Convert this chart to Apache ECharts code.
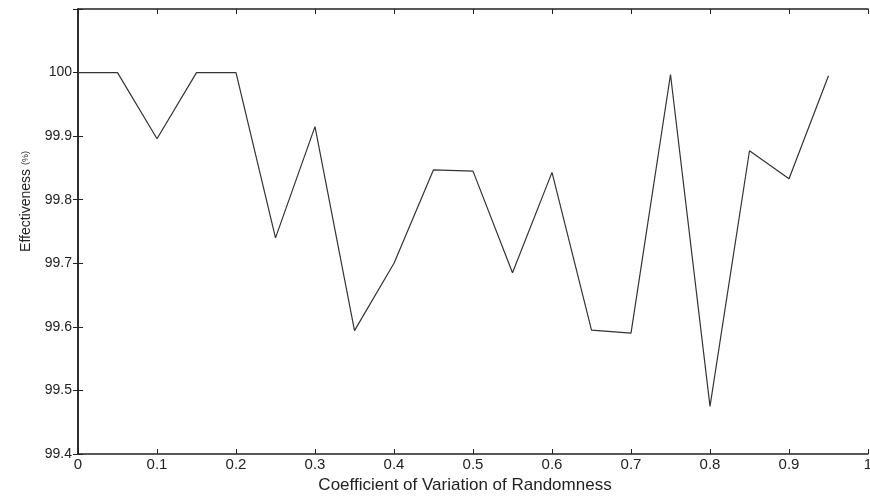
<!DOCTYPE html>
<html><head><meta charset="utf-8">
<script src="https://cdn.jsdelivr.net/npm/echarts@6/dist/echarts.min.js"></script>
<style>html,body{margin:0;padding:0;background:#fff}#c{width:870px;height:496px}</style>
</head><body><div id="c"></div>
<script>
const xValues = [0, 0.05, 0.1, 0.15, 0.2, 0.25, 0.3, 0.35, 0.4, 0.45, 0.5, 0.55, 0.6, 0.65, 0.7, 0.75, 0.8, 0.85, 0.9, 0.95];
const effectiveness = [100, 100, 99.896, 100, 100, 99.74, 99.915, 99.594, 99.70, 99.847, 99.845, 99.685, 99.843, 99.595, 99.59, 99.997, 99.475, 99.877, 99.833, 99.995];
const xTickLabels = ['0','0.1','0.2','0.3','0.4','0.5','0.6','0.7','0.8','0.9','1'];
const yTickLabels = ['99.4','99.5','99.6','99.7','99.8','99.9','100'];
const xTitle = 'Coefficient of Variation of Randomness';
const yTitle = 'Effectiveness';
const yUnit = '(%)';

const font = 'Liberation Sans, Arial, sans-serif';
const chart = echarts.init(document.getElementById('c'), null, {renderer: 'canvas'});
const axisLine = {show: true, lineStyle: {color: '#222', width: 1.5}};
const tick = {show: true, inside: true, length: 5, lineStyle: {color: '#222', width: 1}};
chart.setOption({
  animation: false,
  backgroundColor: '#fff',
  grid: {left: 78, right: 2, top: 9, bottom: 42, outerBoundsMode: 'none', containLabel: false},
  xAxis: [{
    type: 'value', min: 0, max: 1, interval: 0.1,
    axisLine: axisLine, axisTick: tick, splitLine: {show: false},
    axisLabel: {color: '#222', fontFamily: font, fontSize: 15, margin: 3, hideOverlap: false,
      formatter: v => { const i = Math.round(v * 10); return xTickLabels[i] !== undefined ? xTickLabels[i] : ''; }},
    name: xTitle, nameLocation: 'middle', nameGap: 21,
    nameTextStyle: {color: '#222', fontFamily: font, fontSize: 17, padding: [0, 16, 0, 0]}
  }, {
    type: 'value', position: 'top', min: 0, max: 1, interval: 0.1,
    axisLine: axisLine, axisTick: tick, axisLabel: {show: false}, splitLine: {show: false}
  }],
  yAxis: [{
    type: 'value', min: 99.4, max: 100.1, interval: 0.1,
    axisLine: axisLine, axisTick: tick, splitLine: {show: false},
    axisLabel: {color: '#222', fontFamily: font, fontSize: 14, margin: 6, hideOverlap: false,
      formatter: v => { const i = Math.round((v - 99.4) * 10); return yTickLabels[i] !== undefined ? yTickLabels[i] : ''; }},
    name: yTitle + ' {s|' + yUnit + '}', nameLocation: 'middle', nameGap: 45, nameRotate: 90,
    nameTextStyle: {color: '#222', fontFamily: font, fontSize: 14, padding: [0, 0, 0, 60],
      rich: {s: {fontSize: 9, fontFamily: font, color: '#222'}}}
  }, {
    type: 'value', position: 'right', min: 99.4, max: 100.1, interval: 0.1,
    axisLine: axisLine, axisTick: tick, axisLabel: {show: false}, splitLine: {show: false}
  }],
  series: [{
    type: 'line',
    data: xValues.map((x, i) => [x, effectiveness[i]]),
    showSymbol: false, symbol: 'none',
    lineStyle: {color: '#333', width: 1.2}
  }]
});
</script></body></html>
